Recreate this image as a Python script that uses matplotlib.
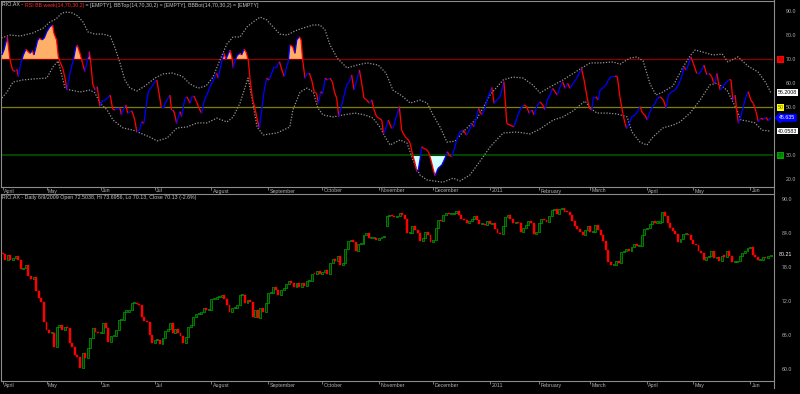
import numpy as np
import matplotlib
matplotlib.use("Agg")
import matplotlib.pyplot as plt
from matplotlib.collections import LineCollection
from matplotlib.lines import Line2D
import matplotlib.transforms as mtransforms

plt.rcParams['font.family'] = ['Liberation Sans', 'DejaVu Sans']

# ---------------- data ----------------
months = ['April', 'May', 'Jun', 'Jul', 'August', 'September', 'October', 'November',
          'December', '2011', 'February', 'March', 'April', 'May', 'Jun']
month_pos = [0, 17, 38, 59, 81, 103, 124, 146, 167, 189, 208, 228, 250, 268, 290]

closes = [
    80.4, 79.3, 80.1, 79.3, 79.6, 80.0, 79.3, 77.7, 77.9, 78.4,
    76.4, 75.9, 76.3, 73.9, 72.6, 71.9, 68.4, 66.9, 66.4, 66.4,
    64.0, 67.5, 67.8, 66.9, 67.5, 67.3, 64.6, 64.0, 62.5, 62.2,
    60.2, 62.9, 62.0, 63.7, 65.5, 67.3, 66.6, 66.4, 66.4, 68.1,
    67.3, 64.9, 65.8, 65.8, 66.9, 68.7, 68.7, 70.2, 70.2, 70.5,
    71.7, 71.7, 71.5, 71.4, 69.3, 68.6, 68.4, 66.1, 64.6, 65.2,
    65.2, 64.5, 65.6, 66.8, 67.2, 68.2, 66.5, 67.1, 66.5, 65.8,
    64.6, 65.7, 67.4, 67.8, 69.2, 69.8, 69.8, 70.2, 70.8, 70.4,
    70.4, 72.4, 72.4, 72.7, 72.8, 73.1, 72.5, 71.4, 70.2, 70.8,
    70.8, 71.4, 73.1, 73.1, 71.7, 72.2, 71.9, 69.3, 70.4, 69.0,
    70.8, 70.2, 71.7, 73.4, 73.4, 74.5, 74.0, 73.1, 74.0, 74.3,
    75.1, 75.5, 75.3, 74.5, 75.2, 74.6, 75.3, 74.7, 75.5, 75.6,
    76.9, 76.8, 77.4, 76.9, 77.2, 77.5, 76.8, 78.7, 79.4, 79.2,
    80.0, 78.4, 78.8, 81.2, 82.7, 82.9, 82.5, 80.8, 82.1, 82.2,
    83.7, 84.0, 83.1, 83.1, 83.1, 82.8, 83.1, 83.3, 83.4, 87.1,
    87.2, 87.1, 86.8, 87.1, 87.5, 87.2, 86.6, 84.0, 84.1, 85.2,
    84.6, 84.0, 82.7, 83.1, 84.3, 83.7, 82.5, 82.8, 84.9, 86.3,
    86.2, 87.2, 87.6, 87.4, 87.4, 87.6, 88.0, 87.2, 86.6, 86.3,
    85.8, 86.2, 86.6, 87.1, 86.3, 85.6, 85.6, 85.5, 86.2, 85.6,
    85.8, 84.7, 84.1, 83.9, 85.2, 86.8, 87.2, 86.5, 85.8, 86.0,
    85.8, 84.3, 84.9, 85.5, 86.2, 85.8, 83.8, 84.3, 85.8, 86.6,
    86.3, 86.0, 87.1, 88.1, 88.3, 87.4, 88.3, 88.4, 87.8, 87.7,
    87.2, 86.2, 85.3, 84.8, 84.3, 83.7, 84.6, 85.3, 84.2, 84.2,
    85.5, 84.6, 83.7, 82.6, 81.1, 79.0, 78.4, 78.4, 79.1, 78.7,
    80.7, 80.8, 81.2, 80.8, 81.5, 82.2, 81.8, 81.8, 83.7, 84.8,
    84.9, 85.6, 86.2, 85.9, 85.9, 86.0, 87.8, 87.1, 85.9, 85.0,
    84.4, 83.8, 82.5, 83.0, 83.8, 83.8, 83.7, 82.8, 82.1, 81.9,
    80.9, 80.6, 79.3, 79.8, 80.0, 80.9, 79.7, 79.8, 79.2, 80.0,
    79.9, 80.9, 80.0, 79.0, 79.0, 79.2, 80.0, 80.5, 80.9, 81.4,
    81.6, 80.2, 79.9, 79.3, 79.3, 79.8, 79.6, 80.0, 80.21,
]

opens = [
    80.6, 80.4, 79.3, 80.1, 79.3, 79.6, 80.0, 79.3, 77.7, 77.9,
    78.4, 76.4, 75.9, 76.3, 73.9, 72.6, 71.9, 68.4, 66.9, 66.4,
    66.4, 64.0, 67.5, 67.8, 66.9, 67.5, 67.3, 64.6, 64.0, 62.5,
    62.2, 60.2, 62.9, 62.0, 63.7, 65.5, 67.3, 66.6, 66.4, 66.4,
    68.1, 67.3, 64.9, 65.8, 65.8, 66.9, 68.7, 68.7, 70.2, 70.2,
    70.5, 71.7, 71.7, 71.5, 71.4, 69.3, 68.6, 68.4, 66.1, 64.6,
    65.2, 65.2, 64.5, 65.6, 66.8, 67.2, 68.2, 66.5, 67.1, 66.5,
    65.8, 64.6, 65.7, 67.4, 67.8, 69.2, 69.8, 69.8, 70.2, 70.8,
    70.4, 70.4, 72.4, 72.4, 72.7, 72.8, 73.1, 72.5, 71.4, 70.2,
    70.8, 70.8, 71.4, 73.1, 73.1, 71.7, 72.2, 71.9, 69.3, 70.4,
    69.0, 70.8, 70.2, 71.7, 73.4, 73.4, 74.5, 74.0, 73.1, 74.0,
    74.3, 75.1, 75.5, 75.3, 74.5, 75.2, 74.6, 75.3, 74.7, 75.5,
    75.6, 76.9, 76.8, 77.4, 76.9, 77.2, 77.5, 76.8, 78.7, 79.4,
    79.2, 80.0, 78.4, 78.8, 81.2, 82.7, 82.9, 82.5, 80.8, 82.1,
    82.2, 83.7, 84.0, 83.1, 83.1, 83.1, 82.8, 83.1, 83.3, 85.2,
    87.1, 87.2, 87.1, 86.8, 87.1, 87.5, 87.2, 86.6, 84.0, 84.1,
    85.2, 84.6, 84.0, 82.7, 83.1, 84.3, 83.7, 82.5, 82.8, 84.9,
    86.3, 86.2, 87.2, 87.6, 87.4, 87.4, 87.6, 88.0, 87.2, 86.6,
    86.3, 85.8, 86.2, 86.6, 87.1, 86.3, 85.6, 85.6, 85.5, 86.2,
    85.6, 85.8, 84.7, 84.1, 83.9, 85.2, 86.8, 87.2, 86.5, 85.8,
    86.0, 85.8, 84.3, 84.9, 85.5, 86.2, 85.8, 83.8, 84.3, 85.8,
    86.6, 86.3, 86.0, 87.1, 88.1, 88.3, 87.4, 88.3, 88.4, 87.8,
    87.7, 87.2, 86.2, 85.3, 84.8, 84.3, 83.7, 84.6, 85.3, 84.2,
    84.2, 85.5, 84.6, 83.7, 82.6, 81.1, 79.0, 78.4, 78.4, 79.1,
    78.7, 80.7, 80.8, 81.2, 80.8, 81.5, 82.2, 81.8, 81.8, 83.7,
    84.8, 84.9, 85.6, 86.2, 85.9, 85.9, 86.0, 87.8, 87.1, 85.9,
    85.0, 84.4, 83.8, 82.5, 83.0, 83.8, 83.8, 83.7, 82.8, 82.1,
    81.9, 80.9, 80.6, 79.3, 79.8, 80.0, 80.9, 79.7, 79.8, 79.2,
    80.0, 79.9, 80.9, 80.0, 79.0, 79.0, 79.2, 80.0, 80.5, 80.9,
    81.4, 81.6, 80.2, 79.9, 79.3, 79.3, 79.8, 79.6, 80.0,
]

rsi_x = [
    -0.3, 0.5, 1.8, 2.8, 3.8, 4.8, 5.5, 6.1, 7.0, 8.0,
    9.0, 9.9, 10.6, 11.5, 12.1, 12.8, 13.5, 14.2, 15.2, 16.1,
    17.1, 18.3, 19.4, 19.9, 20.9, 21.6, 22.2, 23.3, 24.2, 24.9,
    25.5, 26.4, 27.4, 28.4, 28.9, 30.0, 31.0, 31.9, 32.9, 33.6,
    34.2, 35.0, 35.9, 36.7, 37.7, 38.8, 39.7, 40.6, 41.7, 42.7,
    43.6, 44.5, 45.5, 46.1, 47.0, 47.8, 48.5, 49.4, 50.0, 50.7,
    51.4, 52.0, 53.1, 54.0, 54.8, 55.8, 56.5, 57.8, 59.1, 59.8,
    60.8, 61.5, 62.4, 63.4, 64.2, 64.9, 65.5, 66.2, 66.8, 67.5,
    68.2, 68.8, 69.5, 70.1, 70.8, 71.4, 72.1, 72.7, 73.4, 74.2,
    75.2, 76.2, 77.2, 78.1, 79.2, 80.5, 81.8, 83.0, 83.6, 84.3,
    85.3, 85.9, 86.6, 87.6, 88.2, 88.9, 89.5, 90.2, 91.1, 92.1,
    92.7, 93.6, 94.4, 95.3, 96.0, 97.0, 97.9, 98.8, 99.6, 100.5,
    101.4, 102.4, 103.4, 104.4, 105.3, 106.3, 107.4, 108.3, 109.3, 110.2,
    110.8, 111.4, 112.5, 113.4, 114.1, 115.1, 115.8, 116.4, 117.3, 118.2,
    119.0, 119.9, 120.9, 121.8, 122.5, 123.4, 124.2, 125.1, 126.0, 127.0,
    127.9, 128.7, 129.6, 130.4, 131.1, 132.2, 133.5, 134.5, 135.4, 136.3,
    137.4, 138.4, 139.3, 140.2, 141.2, 142.3, 143.2, 144.1, 145.1, 146.0,
    147.1, 147.7, 148.3, 149.6, 150.9, 151.6, 152.9, 153.9, 154.8, 156.1,
    157.4, 158.1, 159.1, 160.0, 160.7, 161.3, 161.9, 162.6, 163.2, 164.3,
    165.2, 165.8, 166.5, 167.1, 167.8, 168.4, 169.0, 169.7, 170.4, 171.0,
    172.0, 172.5, 173.3, 174.2, 175.1, 176.2, 177.4, 178.7, 180.0, 181.3,
    182.0, 182.9, 183.7, 184.6, 185.9, 187.2, 188.1, 189.8, 190.7, 191.7,
    193.0, 194.5, 195.6, 196.8, 198.4, 199.7, 201.0, 202.3, 203.3, 204.3,
    205.3, 206.3, 207.2, 208.5, 209.5, 210.4, 211.3, 212.4, 213.4, 214.3,
    215.2, 216.3, 217.3, 218.2, 219.2, 220.1, 221.4, 222.7, 223.7, 224.6,
    225.6, 226.6, 227.6, 228.6, 229.2, 230.2, 231.1, 231.8, 233.1, 234.1,
    235.0, 236.3, 237.6, 238.5, 239.5, 240.6, 241.5, 242.1, 243.1, 244.1,
    245.4, 246.3, 247.3, 248.3, 249.2, 250.1, 250.9, 252.2, 253.1, 254.0,
    255.1, 256.4, 257.4, 258.3, 259.6, 260.9, 262.2, 263.5, 264.4, 265.2,
    266.0, 267.0, 268.0, 269.3, 270.3, 271.2, 272.1, 273.2, 274.2, 275.1,
    275.7, 276.4, 277.1, 277.7, 278.4, 279.0, 279.9, 281.0, 282.0, 282.6,
    283.3, 284.2, 284.8, 285.5, 286.5, 287.4, 288.4, 289.3, 290.3, 291.3,
    292.3, 293.2, 294.1, 295.2, 296.2, 297.1, 298.0,
]
rsi_v = [
    71.8, 73.9, 79.4, 70.0, 65.6, 64.9, 65.8, 62.8, 68.3, 71.8,
    74.2, 73.2, 72.5, 73.6, 71.8, 74.6, 77.8, 78.8, 78.1, 78.8,
    81.5, 83.6, 84.3, 80.8, 78.1, 71.1, 69.0, 66.3, 62.1, 57.2,
    60.7, 65.6, 69.7, 75.3, 76.0, 72.5, 68.3, 64.9, 69.7, 73.2,
    68.3, 59.3, 57.2, 58.6, 50.3, 53.1, 53.1, 53.8, 55.1, 49.2,
    48.9, 49.6, 49.6, 46.8, 49.6, 51.0, 47.5, 48.2, 48.6, 46.8,
    44.0, 39.9, 40.6, 44.0, 43.3, 51.7, 56.5, 58.6, 60.7, 61.4,
    55.1, 50.0, 50.0, 52.4, 53.8, 55.1, 48.9, 48.9, 46.8, 43.3,
    46.1, 48.2, 46.1, 50.3, 53.8, 54.4, 53.1, 51.7, 54.4, 54.7,
    52.4, 49.6, 47.5, 52.4, 55.1, 58.6, 61.4, 64.2, 62.1, 65.6,
    70.4, 72.5, 70.0, 72.5, 73.9, 71.1, 66.3, 69.7, 71.8, 72.5,
    71.8, 74.2, 73.2, 69.7, 61.4, 53.1, 49.6, 44.7, 41.3, 48.9,
    56.5, 62.1, 61.4, 64.2, 66.9, 66.9, 69.0, 65.6, 62.8, 66.9,
    69.0, 76.0, 75.3, 72.5, 78.1, 79.4, 78.1, 69.7, 62.1, 64.2,
    64.2, 61.4, 56.5, 55.8, 51.7, 56.5, 55.8, 62.1, 61.4, 62.1,
    60.7, 56.5, 53.8, 46.1, 48.9, 53.8, 59.3, 60.7, 63.5, 57.2,
    61.4, 65.6, 60.0, 53.8, 53.1, 51.7, 53.1, 48.9, 46.1, 45.4,
    44.7, 39.1, 39.8, 44.7, 41.2, 41.6, 46.8, 50.3, 40.5, 37.8,
    36.4, 35.0, 30.1, 26.6, 23.2, 24.1, 28.0, 33.6, 32.9, 32.5,
    31.5, 29.4, 26.6, 23.9, 21.4, 23.2, 24.6, 25.3, 26.0, 27.3,
    29.7, 31.5, 30.1, 29.4, 32.2, 36.4, 39.8, 40.5, 38.4, 41.0,
    43.3, 41.9, 45.4, 49.6, 46.8, 49.6, 53.7, 58.3, 51.6, 53.0,
    54.4, 60.7, 43.3, 42.6, 41.9, 46.1, 49.6, 51.0, 50.3, 47.5,
    48.9, 46.8, 50.3, 52.3, 51.0, 48.9, 53.0, 55.1, 57.9, 56.5,
    55.1, 58.6, 60.7, 57.9, 60.0, 57.9, 60.0, 62.1, 64.1, 66.2,
    61.4, 55.1, 49.6, 48.9, 54.4, 54.4, 53.0, 57.2, 58.3, 59.3,
    61.4, 63.0, 63.0, 62.8, 54.4, 47.5, 43.3, 41.2, 43.3, 46.1,
    46.8, 48.2, 50.3, 47.5, 46.8, 44.7, 47.5, 50.3, 51.6, 53.7,
    54.4, 53.0, 49.6, 55.1, 56.5, 57.2, 59.3, 62.8, 66.9, 65.5,
    67.6, 71.0, 68.3, 64.1, 64.1, 65.5, 67.6, 63.5, 64.1, 62.8,
    60.7, 60.0, 64.1, 60.7, 57.2, 57.9, 59.3, 60.7, 61.6, 61.4,
    53.0, 55.1, 48.9, 43.3, 46.8, 50.3, 54.4, 56.5, 53.0, 51.6,
    48.2, 44.0, 45.4, 45.0, 45.8, 44.4, 45.635,
]

upper_x = [
    -0.5, 2.8, 6.8, 11.8, 15.7, 18.3, 20.7, 23.0, 25.0, 27.0,
    29.2, 31.2, 33.1, 35.8, 38.9, 41.7, 43.6, 45.5, 47.4, 49.4,
    52.1, 55.2, 59.1, 62.2, 65.7, 69.6, 72.7, 75.8, 78.9, 81.6,
    84.3, 87.0, 89.4, 92.1, 94.8, 97.1, 99.9, 102.5, 104.9, 107.6,
    110.4, 113.4, 116.5, 120.5, 123.1, 125.1, 127.0, 129.8, 133.6, 137.5,
    141.3, 145.7, 148.7, 151.4, 155.0, 158.1, 161.9, 164.7, 167.0, 169.7,
    172.4, 175.5, 178.6, 181.3, 184.1, 186.8, 189.1, 191.8, 194.2, 198.0,
    201.9, 205.7, 208.5, 212.4, 217.4, 224.1, 227.9, 231.8, 236.8, 239.6,
    243.4, 246.1, 248.5, 251.2, 253.5, 256.2, 260.1, 264.0, 266.7, 268.7,
    271.7, 275.6, 279.2, 281.4, 285.3, 289.2, 293.1, 296.2, 298.0,
]
upper_v = [
    78.9, 80.1, 79.7, 81.0, 83.0, 85.5, 86.8, 89.3, 89.7, 89.3,
    88.0, 85.5, 81.4, 80.5, 80.5, 79.7, 74.7, 68.5, 61.4, 58.0,
    56.8, 58.9, 62.2, 63.9, 64.3, 63.0, 59.7, 58.0, 58.9, 62.6,
    69.7, 76.4, 79.3, 79.3, 83.5, 85.5, 87.6, 86.4, 83.5, 80.5,
    80.1, 81.8, 83.0, 84.3, 84.3, 82.2, 76.0, 70.5, 66.4, 67.6,
    68.5, 67.6, 64.3, 57.2, 54.7, 51.8, 53.0, 51.8, 46.8, 41.8,
    35.5, 35.9, 39.7, 42.6, 45.5, 50.5, 55.1, 58.5, 61.4, 62.6,
    62.2, 59.3, 56.0, 58.5, 61.4, 66.0, 68.5, 68.5, 68.9, 68.0,
    70.5, 71.0, 69.3, 59.7, 55.1, 56.4, 58.9, 66.8, 71.4, 73.9,
    73.0, 71.8, 72.2, 68.9, 71.0, 67.2, 64.7, 60.1, 56.2008,
]

lower_x = [
    -0.3, 1.7, 4.0, 7.8, 11.8, 17.1, 19.5, 21.5, 24.2, 26.2,
    30.0, 33.9, 35.8, 37.7, 40.5, 42.8, 46.7, 50.6, 53.3, 57.1,
    59.9, 63.8, 67.6, 71.5, 75.4, 79.3, 83.1, 87.0, 89.4, 92.1,
    95.2, 96.7, 98.7, 101.1, 106.4, 111.4, 112.6, 115.4, 118.1, 120.5,
    122.3, 124.3, 128.2, 132.0, 136.7, 140.6, 143.7, 146.4, 148.4, 150.3,
    154.2, 156.9, 159.2, 161.9, 164.7, 170.8, 174.8, 177.4, 181.3, 186.4,
    189.1, 194.2, 199.6, 204.7, 208.5, 213.6, 217.4, 221.3, 224.1, 226.0,
    227.9, 230.6, 234.5, 238.4, 242.3, 244.2, 247.3, 250.0, 252.3, 256.2,
    260.1, 262.8, 266.7, 270.6, 274.4, 277.2, 281.0, 284.9, 286.5, 288.9,
    291.9, 294.6, 298.0,
]
lower_v = [
    53.9, 56.4, 60.5, 61.4, 61.8, 62.2, 66.8, 69.3, 58.0, 57.2,
    56.4, 57.2, 56.0, 51.8, 48.9, 44.7, 41.4, 40.5, 39.3, 37.6,
    36.0, 37.2, 41.4, 41.8, 43.5, 43.5, 45.5, 43.9, 45.9, 51.8,
    62.2, 53.9, 41.8, 38.5, 39.3, 41.8, 48.9, 56.4, 58.0, 56.4,
    49.7, 46.8, 46.0, 46.8, 47.6, 46.8, 45.5, 41.8, 37.6, 34.3,
    36.4, 35.1, 28.0, 21.8, 19.7, 18.8, 20.5, 19.3, 21.8, 29.3,
    33.5, 39.3, 39.7, 38.9, 41.0, 44.7, 46.0, 48.5, 51.0, 52.6,
    49.7, 47.6, 47.6, 47.2, 46.0, 39.7, 35.5, 34.3, 37.6, 41.4,
    42.6, 43.9, 47.6, 53.0, 59.3, 60.1, 57.2, 48.9, 44.7, 44.3,
    43.5, 40.5, 40.0583,
]

levels = [70, 50, 30]
level_colors = ['#8C0000', '#808000', '#004400']
level_box = ['#FF0000', '#FFFF00', '#00A000']
level_box_text = ['#7A0000', '#6A6A00', '#003A00']
rsi_ticks = [90, 80, 70, 60, 50, 30, 20]
price_ticks = [90, 84, 78, 72, 66, 60]

top_title_parts = [("RIO.AX - ", '#D8D8D8'),
                   ("RSI BB week(14,70,30,2)", '#FF2A2A'),
                   (" = [EMPTY], BBTop(14,70,30,2) = [EMPTY], BBBot(14,70,30,2) = [EMPTY]", '#C4C4C4')]
bottom_title = "RIO.AX - Daily 6/9/2009 Open 72.5038, Hi 73.6956, Lo 70.13, Close 70.13 (-2.6%)"

# ---------------- layout ----------------
W, H = 800, 394
FS = 3.8
GRID = '#8C8C8C'
LABEL = '#B0B0B0'

fig = plt.figure(figsize=(W / 100, H / 100), dpi=100, facecolor='black')


def rect(x0, y0, x1, y1):
    return [x0 / W, 1 - y1 / H, (x1 - x0) / W, (y1 - y0) / H]


ax1 = fig.add_axes(rect(0.5, 0.5, 773, 187))
ax2 = fig.add_axes(rect(0.5, 194, 773, 381))

for ax, off in ((ax1, -4.0), (ax2, -4.5)):
    ax.set_facecolor('black')
    for s in ax.spines.values():
        s.set_color(GRID)
        s.set_linewidth(0.8)
    ax.spines['right'].set_visible(False)
    ax.set_xlim(-0.85, 298.9)
    ax.set_yticks([])
    ax.set_xticks(month_pos)
    ax.tick_params(axis='x', direction='out', length=2.3, width=0.6,
                   color=GRID, labelbottom=False)
    for m, p in zip(months, month_pos):
        ax.annotate(m, xy=(p, 0), xycoords=('data', 'axes fraction'),
                    xytext=(1.5, off), textcoords='offset pixels',
                    ha='left', va='center', fontsize=FS, color=LABEL,
                    annotation_clip=False)

ax1.set_ylim(16.8, 94.5)
ax2.set_ylim(57.95, 90.93)

# separator line between plot and price scale
fig.add_artist(Line2D([774 / W, 774 / W], [1.0, 1 - 388 / H], color=GRID,
                      lw=0.8, transform=fig.transFigure))

# ---------------- top panel: RSI with bands ----------------
rx = np.array(rsi_x)
rv = np.array(rsi_v)
ax1.fill_between(rx, rv, levels[0], where=rv > levels[0], interpolate=True,
                 color='#FFB068', lw=0, zorder=1)
ax1.fill_between(rx, rv, levels[2], where=rv < levels[2], interpolate=True,
                 color='#D2FFFF', lw=0, zorder=1)
for lv, col in zip(levels, level_colors):
    ax1.axhline(lv, color=col, lw=1.5 if lv == 30 else 0.9, zorder=2)

ax1.plot(upper_x, upper_v, color='#959595', lw=0.9, ls=(0, (1, 1.3)), zorder=3)
ax1.plot(lower_x, lower_v, color='#959595', lw=0.9, ls=(0, (1, 1.3)), zorder=3)

pts = np.column_stack([rx, rv])
segs = np.stack([pts[:-1], pts[1:]], axis=1)
seg_cols = np.where(np.diff(rv) >= 0, '#0000FF', '#FF0000')
ax1.add_collection(LineCollection(segs, colors=seg_cols, linewidths=0.95, zorder=4))

# titles
t = ax1.annotate(top_title_parts[0][0], xy=(0, 1), xycoords='axes fraction',
                 xytext=(2, -4.5), textcoords='offset pixels', ha='left',
                 va='center', fontsize=FS, color=top_title_parts[0][1])
for txt, col in top_title_parts[1:]:
    t = ax1.annotate(txt, xy=(1, 0), xycoords=t, ha='left', va='bottom',
                     fontsize=FS, color=col)

# right scale (top)
tr1 = mtransforms.blended_transform_factory(fig.transFigure, ax1.transData)
for v in rsi_ticks:
    ax1.text(786 / W, v, f'{v:.1f}', transform=tr1, fontsize=FS, color=LABEL,
             ha='left', va='center')
for lv, fc, tc in zip(levels, level_box, level_box_text):
    ax1.text(777.5 / W, lv, f'{lv}', transform=tr1, fontsize=FS, color=tc,
             ha='left', va='center',
             bbox=dict(boxstyle='square,pad=0.15', fc=fc, ec='none'))
for val in (upper_v[-1], lower_v[-1]):
    ax1.text(778 / W, val, f'{val:g}', transform=tr1, fontsize=FS, color='black',
             ha='left', va='center',
             bbox=dict(boxstyle='square,pad=0.15', fc='white', ec='none'))
ax1.text(779 / W, rsi_v[-1], f'{rsi_v[-1]:g}', transform=tr1, fontsize=FS,
         color='white', ha='left', va='center',
         bbox=dict(boxstyle='larrow,pad=0.15', fc='#0000FF', ec='#0000FF'))

# ---------------- bottom panel: candles ----------------
n = min(len(opens), len(closes))
o = np.array(opens[:n])
c = np.array(closes[:n])
x = np.arange(n)
up = c >= o
low_edge = np.minimum(o, c)
body = np.maximum(np.abs(c - o), 0.2)
ax2.bar(x[up], body[up], bottom=low_edge[up], width=0.75,
        facecolor='#002A00', edgecolor='#00A800', linewidth=0.5, zorder=3)
ax2.bar(x[~up], body[~up], bottom=low_edge[~up], width=0.75,
        facecolor='#FF0000', edgecolor='#FF0000', linewidth=0.3, zorder=3)

ax2.annotate(bottom_title, xy=(0, 1), xycoords='axes fraction', xytext=(2, -3.5),
             textcoords='offset pixels', ha='left', va='center', fontsize=FS,
             color='#C4C4C4')

tr2 = mtransforms.blended_transform_factory(fig.transFigure, ax2.transData)
for v in price_ticks:
    ax2.text(782 / W, v, f'{v:.1f}', transform=tr2, fontsize=FS, color=LABEL,
             ha='left', va='center')
ax2.text(779 / W, closes[-1], f'{closes[-1]:g}', transform=tr2, fontsize=FS,
         color='white', ha='left', va='center')

fig.savefig('out.png', dpi=100, facecolor='black')
